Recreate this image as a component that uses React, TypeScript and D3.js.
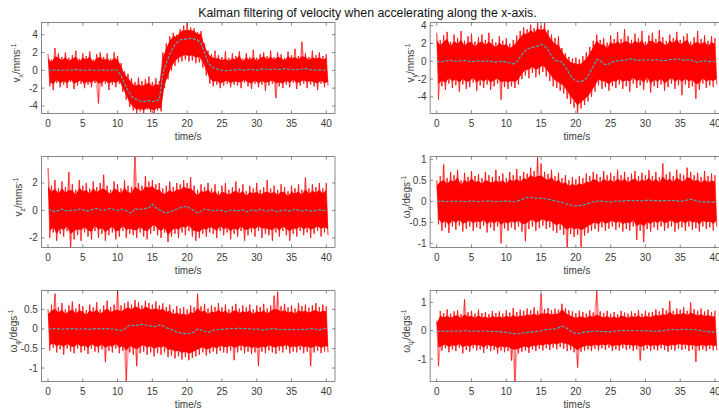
import React from 'react';
import * as d3 from 'd3';

// ---------- data (sampled every 0.5 s, t = 0 … 40 s) ----------
const SAMPLE_DT = 0.5;

const X_TICKS = [0, 5, 10, 15, 20, 25, 30, 35, 40];
const X_DOMAIN: [number, number] = [-0.95, 41.25];
const TITLE = 'Kalman filtering of velocity when accelerating along the x-axis.';

// v_x
const vxFiltered = [
  0.0, 0.0, 0.05, 0.0, 0.0, 0.05, 0.0, 0.0, 0.1, 0.05,
  0.0, 0.0, 0.05, 0.0, 0.0, 0.0, 0.05, 0.0, 0.0, 0.05,
  0.0, -0.6, -1.5, -2.3, -2.9, -3.2, -3.4, -3.5, -3.5, -3.4,
  -3.5, -3.4, -3.3, -0.4, 0.8, 1.8, 2.6, 3.1, 3.4, 3.5,
  3.5, 3.6, 3.5, 3.4, 3.0, 2.0, 0.9, 0.4, 0.2, 0.1,
  0.0, -0.05, 0.0, 0.0, 0.05, 0.1, 0.0, 0.05, 0.1, 0.05,
  0.0, 0.1, 0.2, 0.1, 0.1, 0.15, 0.1, 0.1, 0.2, 0.15,
  0.1, 0.05, 0.1, 0.15, 0.2, 0.1, 0.05, 0.0, 0.05, 0.0,
  0.0,
];
const vxHigh = [
  1.8, 1.2, 2.5, 1.9, 1.5, 2.0, 1.4, 1.7, 2.2, 1.3,
  1.9, 1.6, 2.1, 1.2, 1.8, 2.0, 1.5, 1.9, 1.3, 2.0,
  1.6, 0.8, -0.1, -0.4, -0.9, -1.3, -0.8, -1.2, -1.0, -0.7,
  -1.3, -0.9, -1.2, 2.0, 3.0, 3.8, 4.2, 4.0, 4.6, 5.0,
  5.3, 4.8, 4.7, 4.3, 4.4, 3.0, 2.2, 1.8, 2.2, 1.7,
  1.5, 2.1, 1.4, 1.9, 1.6, 2.1, 1.3, 1.9, 1.5, 2.3,
  1.4, 1.8, 2.0, 1.6, 2.2, 1.5, 2.0, 1.8, 1.4, 2.1,
  1.7, 2.4, 1.6, 3.2, 1.9, 1.5, 2.2, 1.7, 2.0, 1.6,
  1.8,
];
const vxLow = [
  -1.8, -2.2, -1.4, -1.9, -1.6, -2.0, -1.3, -2.1, -1.7, -1.5,
  -2.0, -1.6, -1.9, -1.4, -3.7, -1.8, -1.5, -2.2, -1.6, -1.9,
  -1.5, -2.4, -3.3, -4.1, -4.5, -4.8, -4.6, -4.8, -4.4, -4.7,
  -4.8, -4.5, -4.6, -2.0, -1.0, 0.0, 0.5, 0.9, 1.0, 1.2,
  1.0, 1.1, 0.8, 0.9, 0.3, -0.6, -1.5, -1.8, -1.6, -2.0,
  -1.7, -1.5, -1.9, -1.6, -1.7, -2.0, -1.4, -1.8, -2.1, -1.5,
  -1.9, -1.6, -2.3, -1.7, -1.5, -3.1, -1.8, -2.0, -1.6, -1.9,
  -1.4, -2.1, -1.7, -1.5, -2.0, -1.6, -1.8, -2.2, -1.5, -1.9,
  -1.7,
];

// v_y
const vyFiltered = [
  0.0, -0.1, 0.0, 0.05, 0.1, 0.0, 0.0, 0.05, 0.1, 0.0,
  -0.05, 0.0, 0.05, 0.0, 0.0, 0.05, -0.05, -0.1, -0.05, 0.0,
  -0.1, -0.2, -0.3, -0.1, 0.5, 1.0, 1.4, 1.5, 1.6, 1.7,
  1.9, 1.7, 1.3, 0.6, 0.1, 0.0, -0.1, -0.6, -1.3, -1.9,
  -2.2, -2.3, -2.2, -1.9, -1.3, -0.6, 0.2, 0.1, -0.3, -0.4,
  -0.2, 0.0, 0.05, 0.1, 0.1, 0.2, 0.3, 0.15, 0.1, 0.2,
  0.1, 0.15, 0.1, 0.2, 0.1, 0.05, 0.1, 0.2, 0.2, 0.3,
  0.2, 0.1, 0.2, 0.15, 0.0, -0.1, 0.0, 0.05, -0.05, 0.0,
  0.0,
];
const vyHigh = [
  3.2, 2.4, 2.9, 3.3, 2.2, 3.0, 2.6, 3.4, 2.3, 2.8,
  3.1, 2.2, 2.7, 3.0, 2.4, 3.2, 2.5, 2.1, 2.8, 2.3,
  2.6, 2.0, 2.4, 2.9, 3.4, 3.8, 3.6, 4.1, 3.7, 4.3,
  4.0, 4.3, 3.5, 3.0, 2.6, 2.8, 1.5, 0.9, 0.5, 0.3,
  0.4, 0.2, 0.6, 1.0, 1.6, 2.3, 3.0, 2.4, 2.6, 2.1,
  2.9, 2.5, 3.3, 2.5, 3.6, 2.8, 2.4, 3.1, 2.6, 3.4,
  2.2, 2.9, 3.2, 2.5, 3.5, 2.7, 2.3, 3.0, 2.6, 3.3,
  2.4, 2.8, 3.1, 2.2, 2.7, 3.4, 2.5, 2.9, 2.3, 2.8,
  2.6,
];
const vyLow = [
  -4.3, -2.8, -3.2, -2.5, -3.0, -2.7, -3.4, -2.6, -3.1, -2.9,
  -2.4, -3.3, -2.7, -3.0, -2.6, -3.2, -2.8, -2.5, -4.3, -2.9,
  -3.1, -2.8, -3.0, -2.6, -2.0, -1.6, -1.9, -1.3, -1.8, -1.5,
  -1.2, -1.7, -2.2, -2.8, -3.0, -3.3, -3.6, -4.2, -4.8, -5.2,
  -5.8, -5.3, -4.9, -4.5, -4.0, -3.4, -2.7, -3.1, -2.9, -3.3,
  -2.8, -3.0, -2.6, -3.1, -2.8, -3.4, -2.5, -3.0, -2.7, -3.2,
  -2.4, -3.5, -2.8, -3.0, -2.6, -3.3, -2.9, -2.5, -3.1, -2.7,
  -3.8, -2.6, -3.0, -2.8, -4.2, -3.2, -2.5, -3.0, -2.7, -2.9,
  -2.6,
];

// v_z
const vzFiltered = [
  0.1, 0.0, -0.1, 0.0, 0.1, 0.0, -0.05, 0.05, 0.0, 0.1,
  0.05, -0.05, 0.0, 0.1, 0.15, 0.05, 0.0, 0.1, 0.15, 0.05,
  0.0, 0.1, 0.05, -0.1, -0.2, 0.15, 0.05, 0.1, 0.15, 0.2,
  0.45, 0.2, 0.05, -0.1, -0.2, -0.1, 0.0, 0.1, 0.2, 0.25,
  0.3, 0.1, 0.0, -0.2, -0.05, 0.1, 0.05, 0.0, -0.05, 0.05,
  0.0, -0.1, 0.0, 0.05, -0.05, 0.0, 0.05, -0.1, 0.0, 0.05,
  -0.05, 0.1, 0.0, -0.05, 0.05, 0.0, -0.1, 0.0, 0.05, -0.05,
  0.0, 0.1, 0.0, -0.05, 0.05, 0.0, -0.05, 0.0, 0.05, 0.0,
  0.0,
];
const vzHigh = [
  3.1, 1.8, 2.2, 1.6, 2.1, 1.7, 2.8, 1.9, 1.5, 2.2,
  1.8, 2.0, 1.6, 2.1, 1.7, 2.0, 2.6, 1.8, 1.5, 2.1,
  1.9, 1.6, 2.2, 1.8, 1.7, 3.9, 2.0, 1.8, 2.5, 2.1,
  2.2, 1.9, 2.0, 1.6, 1.8, 2.1, 1.7, 2.0, 1.9, 2.2,
  2.0, 2.4, 1.8, 1.5, 1.9, 1.7, 2.0, 1.6, 1.9, 1.4,
  1.8, 2.0, 1.5, 1.7, 2.1, 1.6, 1.9, 1.4, 1.8, 1.6,
  2.0, 1.5, 1.7, 2.2, 1.6, 1.8, 1.5, 1.9, 1.7, 1.4,
  1.8, 1.6, 1.9, 1.5, 2.4, 1.6, 1.9, 1.7, 2.0, 1.6,
  2.0,
];
const vzLow = [
  -2.0, -1.6, -2.2, -1.7, -1.9, -1.5, -2.7, -2.1, -1.8, -2.2,
  -1.6, -1.9, -2.1, -1.5, -2.0, -1.7, -2.2, -1.8, -1.6, -2.1,
  -1.9, -1.5, -2.0, -1.7, -1.8, -2.0, -1.6, -1.9, -2.1, -1.7,
  -1.5, -1.8, -2.0, -1.6, -2.3, -1.9, -1.7, -2.0, -1.6, -1.8,
  -1.5, -1.9, -2.2, -2.0, -1.7, -1.9, -1.6, -1.7, -2.0, -1.5,
  -1.8, -1.6, -2.1, -1.7, -1.9, -1.5, -2.2, -1.8, -1.6, -1.9,
  -1.5, -2.0, -1.7, -1.8, -2.2, -1.6, -1.9, -1.5, -1.8, -2.2,
  -1.7, -1.9, -1.5, -1.8, -1.6, -2.0, -1.7, -1.5, -1.9, -1.6,
  -1.8,
];

// omega_theta
const wThetaFiltered = [
  0.0, 0.01, 0.0, -0.01, 0.0, 0.01, 0.0, 0.0, -0.01, 0.0,
  0.01, 0.0, -0.01, 0.0, 0.0, 0.01, 0.0, -0.01, 0.0, 0.0,
  0.01, 0.0, -0.01, 0.0, 0.03, 0.06, 0.09, 0.09, 0.08, 0.07,
  0.08, 0.06, 0.05, 0.03, 0.01, -0.01, -0.03, -0.05, -0.08, -0.1,
  -0.11, -0.1, -0.09, -0.07, -0.04, -0.01, 0.0, 0.01, 0.0, -0.01,
  -0.02, 0.0, 0.01, 0.0, 0.01, 0.02, 0.02, 0.01, 0.02, 0.01,
  0.02, 0.03, 0.02, 0.01, 0.01, 0.02, 0.01, 0.02, 0.02, 0.01,
  0.0, 0.01, 0.03, 0.05, 0.03, 0.0, -0.01, -0.02, -0.01, -0.02,
  -0.02,
];
const wThetaHigh = [
  0.5, 0.6, 0.88, 0.55, 0.7, 0.62, 0.75, 0.5, 0.68, 0.58,
  0.72, 0.6, 0.65, 0.55, 0.7, 0.62, 0.58, 0.75, 0.6, 0.66,
  0.55, 0.7, 0.62, 0.77, 0.6, 0.7, 0.66, 0.8, 0.72, 1.05,
  0.9, 0.7, 0.65, 0.75, 0.6, 0.68, 0.55, 0.62, 0.5, 0.58,
  0.52, 0.6, 0.55, 0.66, 0.6, 0.7, 0.65, 0.58, 0.72, 0.62,
  0.68, 0.6, 0.75, 0.62, 0.7, 0.58, 0.66, 0.72, 0.6, 0.68,
  0.62, 0.74, 0.6, 0.7, 0.58, 0.9, 0.64, 0.7, 0.6, 0.75,
  0.66, 0.62, 0.8, 0.7, 0.62, 0.68, 0.58, 0.72, 0.6, 0.66,
  0.62,
];
const wThetaLow = [
  -0.55, -0.7, -0.62, -0.75, -0.6, -0.68, -0.58, -0.72, -0.65, -0.6,
  -0.7, -0.62, -0.66, -0.58, -0.74, -0.62, -0.7, -0.6, -1.0, -0.65,
  -0.7, -0.62, -0.68, -0.6, -0.72, -0.95, -0.66, -0.6, -0.7, -0.64,
  -0.58, -0.66, -0.62, -0.7, -0.75, -0.68, -0.8, -1.1, -0.78, -0.85,
  -0.8, -1.1, -0.82, -0.75, -0.7, -0.66, -0.72, -0.62, -0.7, -0.65,
  -0.6, -0.68, -0.62, -0.72, -0.66, -0.7, -0.6, -0.92, -0.7, -0.97,
  -0.66, -0.72, -0.62, -0.68, -0.6, -0.7, -0.64, -0.6, -0.72, -0.66,
  -0.62, -0.7, -0.6, -0.68, -0.64, -0.72, -0.6, -0.66, -0.62, -0.7,
  -0.6,
];

// omega_phi
const wPhiFiltered = [
  -0.01, 0.0, 0.01, 0.0, -0.01, 0.0, 0.0, 0.01, 0.0, -0.01,
  0.0, 0.0, -0.01, 0.0, 0.01, 0.0, 0.0, 0.01, -0.01, 0.0,
  -0.03, -0.04, 0.0, 0.07, 0.1, 0.08, 0.1, 0.12, 0.1, 0.08,
  0.07, 0.06, 0.1, 0.08, 0.03, 0.0, -0.04, -0.08, -0.1, -0.12,
  -0.12, -0.11, -0.08, 0.0, -0.03, -0.06, -0.09, -0.05, -0.02, -0.02,
  -0.01, 0.0, 0.0, 0.01, 0.01, 0.02, 0.0, 0.01, 0.0, -0.01,
  0.0, -0.02, -0.03, -0.01, 0.0, 0.01, -0.01, -0.02, -0.01, -0.02,
  -0.01, -0.02, -0.02, -0.01, -0.02, 0.0, 0.01, -0.01, -0.03, 0.0,
  0.02,
];
const wPhiHigh = [
  0.5, 0.62, 0.9, 0.55, 0.66, 0.5, 0.6, 0.7, 0.52, 0.64,
  0.58, 0.48, 0.62, 0.55, 0.68, 0.5, 0.6, 0.72, 0.56, 0.62,
  0.98, 0.6, 0.66, 0.7, 0.62, 0.74, 0.68, 0.6, 0.72, 0.66,
  0.62, 0.7, 0.6, 0.65, 0.56, 0.62, 0.5, 0.58, 0.52, 0.56,
  0.5, 0.6, 0.55, 0.9, 0.58, 0.64, 0.52, 0.6, 0.56, 0.66,
  0.55, 0.62, 0.5, 0.58, 0.64, 0.52, 0.6, 0.55, 0.62, 0.5,
  0.6, 0.56, 0.64, 0.52, 0.6, 0.85, 0.95, 0.58, 0.64, 0.55,
  0.6, 0.52, 0.66, 0.58, 0.62, 0.54, 0.6, 0.66, 0.56, 0.62,
  0.58,
];
const wPhiLow = [
  -0.55, -0.48, -0.6, -0.52, -0.66, -0.5, -0.58, -0.62, -0.5, -0.6,
  -0.55, -0.64, -0.5, -0.58, -0.6, -0.52, -0.85, -0.56, -0.6, -0.5,
  -0.62, -0.56, -1.33, -0.6, -0.66, -0.95, -0.62, -0.58, -0.66, -0.6,
  -0.7, -0.62, -0.66, -0.6, -0.72, -0.68, -0.75, -0.7, -0.78, -0.72,
  -0.8, -0.74, -0.7, -0.66, -0.6, -0.68, -0.62, -0.58, -0.64, -0.56,
  -0.6, -0.62, -0.56, -0.8, -0.6, -0.55, -0.62, -0.58, -0.64, -0.6,
  -0.95, -0.58, -0.62, -0.55, -0.6, -0.64, -0.56, -0.6, -0.52, -0.62,
  -0.58, -0.6, -0.54, -0.62, -0.58, -0.95, -0.6, -0.56, -0.62, -0.58,
  -0.6,
];

// omega_psi
const wPsiFiltered = [
  -0.02, -0.02, -0.01, -0.02, -0.02, -0.01, -0.02, -0.01, 0.0, -0.01,
  -0.02, -0.01, -0.02, -0.02, -0.01, -0.02, -0.03, -0.03, -0.04, -0.05,
  -0.06, -0.08, -0.1, -0.12, -0.1, -0.08, -0.06, -0.05, -0.04, -0.02,
  0.0, 0.03, 0.05, 0.05, 0.06, 0.1, 0.16, 0.12, 0.03, -0.05,
  -0.1, -0.1, -0.06, -0.04, -0.03, -0.02, -0.02, -0.03, -0.03, -0.04,
  -0.04, -0.02, 0.0, 0.0, 0.01, 0.0, 0.0, 0.01, 0.0, 0.0,
  -0.01, 0.0, -0.02, -0.02, -0.01, 0.0, 0.02, 0.04, 0.04, 0.03,
  0.04, 0.05, 0.05, 0.04, 0.04, 0.02, 0.0, -0.02, -0.03, -0.05,
  -0.05,
];
const wPsiHigh = [
  0.35, 0.7, 0.62, 0.75, 0.6, 0.68, 0.72, 0.58, 1.1, 0.65,
  0.7, 0.6, 0.74, 0.62, 0.66, 0.58, 0.7, 0.62, 0.68, 0.6,
  0.72, 0.64, 0.8, 0.66, 0.74, 0.7, 0.78, 0.72, 0.82, 0.7,
  1.3, 0.76, 0.8, 0.72, 0.78, 0.74, 0.95, 0.8, 0.72, 0.68,
  0.62, 0.7, 0.66, 0.6, 0.72, 0.64, 1.42, 0.68, 0.62, 0.7,
  0.6, 0.66, 0.58, 0.7, 0.64, 0.6, 0.68, 0.62, 0.72, 0.6,
  0.7, 0.64, 0.66, 0.75, 0.68, 0.8, 0.72, 1.05, 0.7, 0.78,
  0.74, 0.82, 0.7, 1.0, 0.76, 0.7, 0.78, 0.68, 0.74, 0.66,
  0.7,
];
const wPsiLow = [
  -1.25, -0.7, -0.62, -0.76, -0.66, -0.72, -0.6, -0.8, -0.68, -0.74,
  -0.62, -0.7, -0.66, -0.78, -0.64, -0.72, -0.68, -0.8, -0.7, -0.76,
  -0.72, -1.05, -1.79, -0.8, -0.74, -0.7, -0.78, -0.66, -0.72, -0.64,
  -0.7, -0.62, -0.68, -0.6, -0.66, -0.58, -0.64, -0.72, -0.68, -0.76,
  -1.3, -0.74, -0.7, -0.66, -0.72, -0.64, -0.7, -0.62, -0.68, -0.6,
  -0.72, -0.66, -0.7, -0.62, -0.68, -0.64, -0.72, -0.66, -1.05, -0.7,
  -0.64, -0.72, -0.66, -0.7, -0.62, -0.68, -0.74, -0.66, -0.7, -0.62,
  -0.68, -0.64, -0.72, -0.66, -1.1, -0.7, -0.66, -0.72, -0.64, -0.7,
  -0.68,
];

// y-axis tick labels for each panel
const vxTicks = [-4, -2, 0, 2, 4];
const vyTicks = [-4, -2, 0, 2, 4];
const vzTicks = [-2, 0, 2];
const wThetaTicks = [-1, -0.5, 0, 0.5, 1];
const wPhiTicks = [-1, -0.5, 0, 0.5];
const wPsiTicks = [-1, 0, 1];

// ---------- layout ----------
const W = 719;
const H = 414;
const COL_LEFT = [41.4, 430.1];
const AX_W = 293.6;
const ROW_TOP = [22.7, 156.7, 290.7];
const AX_H = 90.6;
const FONT = '"Liberation Sans", Arial, Helvetica, sans-serif';
const TEXT = '#3a3a3a';
const AXIS = '#3a3a3a';
const RED = '#ff0000';
const CYAN = '#35bcc8';

type Panel = {
  key: string;
  col: number;
  row: number;
  f: number[];
  hi: number[];
  lo: number[];
  yDomain: [number, number];
  yTicks: number[];
  sym: string;
  sub: string;
  unit: string;
  labelOffset: number;
};

const PANELS: Panel[] = [
  { key: 'vx', col: 0, row: 0, f: vxFiltered, hi: vxHigh, lo: vxLow, yDomain: [-4.82, 5.34], yTicks: vxTicks, sym: 'v', sub: 'x', unit: '/mms', labelOffset: 21 },
  { key: 'vy', col: 1, row: 0, f: vyFiltered, hi: vyHigh, lo: vyLow, yDomain: [-5.84, 4.33], yTicks: vyTicks, sym: 'v', sub: 'y', unit: '/mms', labelOffset: 16 },
  { key: 'vz', col: 0, row: 1, f: vzFiltered, hi: vzHigh, lo: vzLow, yDomain: [-2.68, 3.91], yTicks: vzTicks, sym: 'v', sub: 'z', unit: '/mms', labelOffset: 19 },
  { key: 'wt', col: 1, row: 1, f: wThetaFiltered, hi: wThetaHigh, lo: wThetaLow, yDomain: [-1.095, 1.062], yTicks: wThetaTicks, sym: 'ω', sub: 'θ', unit: '/degs', labelOffset: 20 },
  { key: 'wp', col: 0, row: 2, f: wPhiFiltered, hi: wPhiHigh, lo: wPhiLow, yDomain: [-1.339, 0.977], yTicks: wPhiTicks, sym: 'ω', sub: 'φ', unit: '/degs', labelOffset: 24 },
  { key: 'ws', col: 1, row: 2, f: wPsiFiltered, hi: wPsiHigh, lo: wPsiLow, yDomain: [-1.785, 1.411], yTicks: wPsiTicks, sym: 'ω', sub: 'ψ', unit: '/degs', labelOffset: 20 },
];

function PanelView({ p }: { p: Panel }) {
  const x0 = COL_LEFT[p.col];
  const y0 = ROW_TOP[p.row];
  const x = d3.scaleLinear().domain(X_DOMAIN).range([x0, x0 + AX_W]);
  const y = d3.scaleLinear().domain(p.yDomain).range([y0 + AX_H, y0]);

  const tHi = (i: number) => x(i * SAMPLE_DT);
  const tLo = (i: number) => x(i * SAMPLE_DT + SAMPLE_DT / 2);
  const n = Math.min(p.f.length, p.hi.length, p.lo.length);

  // raw signal: alternates between spike tops and spike bottoms
  const pts: [number, number][] = [];
  for (let i = 0; i < n; i++) {
    pts.push([tHi(i), y(p.hi[i])]);
    pts.push([tLo(i), y(p.lo[i])]);
  }
  const rawPath = d3.line()(pts) || '';

  // same samples, also joined to the next-but-one extreme (denser strands)
  const cross = d3.path();
  for (let i = 0; i + 1 < n; i++) {
    cross.moveTo(tHi(i), y(p.hi[i]));
    cross.lineTo(tLo(i + 1), y(p.lo[i + 1]));
  }
  for (let i = 1; i + 1 < n; i++) {
    cross.moveTo(tLo(i - 1), y(p.lo[i - 1]));
    cross.lineTo(tHi(i + 1), y(p.hi[i + 1]));
  }

  // saturated body of the band: a jagged polygon that reaches most of the way
  // to each extreme (outlying spikes are capped at the local typical reach)
  const devHi = d3.range(n).map((i) => p.hi[i] - p.f[i]);
  const devLo = d3.range(n).map((i) => p.f[i] - p.lo[i]);
  const typical = (arr: number[], i: number) =>
    d3.median(arr.slice(Math.max(0, i - 4), Math.min(n, i + 5))) as number;
  const top: [number, number][] = [];
  const bot: [number, number][] = [];
  for (let i = 0; i < n; i++) {
    const dh = Math.min(devHi[i], typical(devHi, i) * 1.1);
    const dl = Math.min(devLo[i], typical(devLo, i) * 1.1);
    top.push([tHi(i), y(p.f[i] + 0.76 * Math.max(0, dh))]);
    bot.push([tLo(i), y(p.f[i] - 0.76 * Math.max(0, dl))]);
  }
  const bodyPath = d3.line()([...top, ...bot.reverse()]) + 'Z';

  const filtPath =
    d3
      .line<number>()
      .x((_, i) => x(i * SAMPLE_DT))
      .y((d) => y(d))(p.f) || '';

  const clipId = `clip-${p.key}`;
  const bottom = y0 + AX_H;
  const right = x0 + AX_W;
  const tl = 3;
  const fmt = (v: number) => String(v);

  return (
    <g>
      <defs>
        <clipPath id={clipId}>
          <rect x={x0} y={y0} width={AX_W} height={AX_H} />
        </clipPath>
      </defs>
      <rect x={x0} y={y0} width={AX_W} height={AX_H} fill="#ffffff" />
      <g clipPath={`url(#${clipId})`}>
        <path d={cross.toString()} fill="none" stroke={RED} strokeWidth={0.5} strokeOpacity={0.75} />
        <path d={rawPath} fill="none" stroke={RED} strokeWidth={0.6} strokeLinejoin="miter" />
        <path d={bodyPath} fill={RED} stroke="none" />
        <path d={filtPath} fill="none" stroke={CYAN} strokeWidth={1.1} strokeDasharray="3 1.5" />
      </g>
      {/* box */}
      <rect x={x0} y={y0} width={AX_W} height={AX_H} fill="none" stroke={AXIS} strokeWidth={0.6} />
      {/* x ticks */}
      {X_TICKS.map((t) => (
        <g key={`xt${t}`}>
          <line x1={x(t)} x2={x(t)} y1={bottom} y2={bottom - tl} stroke={AXIS} strokeWidth={0.6} />
          <line x1={x(t)} x2={x(t)} y1={y0} y2={y0 + tl} stroke={AXIS} strokeWidth={0.6} />
          <text x={x(t)} y={bottom + 13.4} textAnchor="middle" fontSize={10} fill={TEXT} fontFamily={FONT}>
            {fmt(t)}
          </text>
        </g>
      ))}
      {/* y ticks */}
      {p.yTicks.map((v) => (
        <g key={`yt${v}`}>
          <line x1={x0} x2={x0 + tl} y1={y(v)} y2={y(v)} stroke={AXIS} strokeWidth={0.6} />
          <line x1={right} x2={right - tl} y1={y(v)} y2={y(v)} stroke={AXIS} strokeWidth={0.6} />
          <text x={x0 - 3.5} y={y(v)} dy="0.35em" textAnchor="end" fontSize={10} fill={TEXT} fontFamily={FONT}>
            {fmt(v)}
          </text>
        </g>
      ))}
      {/* x label */}
      <text x={x0 + AX_W / 2} y={bottom + 26.3} textAnchor="middle" fontSize={10} fill={TEXT} fontFamily={FONT}>
        time/s
      </text>
      {/* y label */}
      <text
        transform={`translate(${x0 - p.labelOffset},${y0 + AX_H / 2 - 5}) rotate(-90)`}
        textAnchor="middle"
        fontSize={10}
        fill={TEXT}
        fontFamily={FONT}
      >
        <tspan>{p.sym}</tspan>
        <tspan fontSize={7} dy={2.5}>{p.sub}</tspan>
        <tspan dy={-2.5}>{p.unit}</tspan>
        <tspan fontSize={7} dy={-4}>-1</tspan>
      </text>
    </g>
  );
}

export default function App() {
  return (
    <svg
      width={W}
      height={H}
      viewBox={`0 0 ${W} ${H}`}
      style={{ position: 'absolute', left: 0, top: 0, background: '#ffffff' }}
    >
      <rect x={0} y={0} width={W} height={H} fill="#ffffff" />
      <text x={367.5} y={17} textAnchor="middle" fontSize={12.3} fill="#111111" fontFamily={FONT}>
        {TITLE}
      </text>
      {PANELS.map((p) => (
        <PanelView key={p.key} p={p} />
      ))}
    </svg>
  );
}
